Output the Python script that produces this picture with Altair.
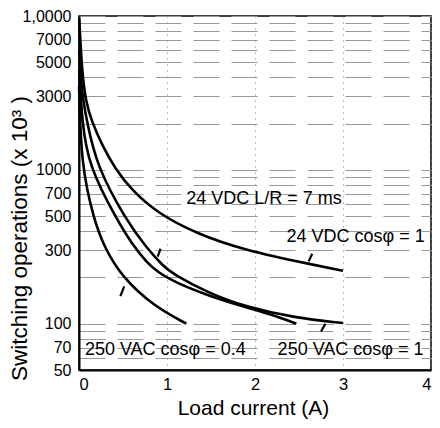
import altair as alt
import pandas as pd

# ---- curve data: load current (A) vs switching operations (x10^3) ----
dc_res_x = [0.003, 0.034, 0.078, 0.145, 0.268, 0.413, 0.6, 0.9, 1.33, 1.89, 2.64, 3.0]
dc_res_y = [9500, 4300, 2770, 2060, 1425, 1015, 735, 520, 386, 299, 243, 221]

dc_lr_x = [0.003, 0.03, 0.09, 0.2, 0.536, 0.77, 0.96, 1.06, 1.47, 1.89, 2.45, 3.0]
dc_lr_y = [6000, 3200, 2060, 1060, 470, 310, 236, 212, 158, 129, 109, 101]

ac_res_x = [0.002, 0.034, 0.11, 0.425, 0.6, 0.77, 0.9, 1.1, 1.47, 1.89, 2.2, 2.47]
ac_res_y = [4500, 2060, 1060, 480, 330, 250, 215, 185, 152, 128, 114, 100]

ac_ind_x = [0.001, 0.025, 0.168, 0.28, 0.49, 0.85, 1.22]
ac_ind_y = [3500, 1060, 480, 320, 200, 130, 100]

series_names = ["24 VDC cosφ = 1", "24 VDC L/R = 7 ms", "250 VAC cosφ = 1", "250 VAC cosφ = 0.4"]

# ---- labels ----
label_texts = ["24 VDC L/R = 7 ms", "24 VDC cosφ = 1", "250 VAC cosφ = 0.4", "250 VAC cosφ = 1"]
label_x = [1.218, 2.358, 0.067, 2.257]
label_y = [643, 366, 67, 67]

# ---- pointer arrows ----
arrow_x = [2.61, 0.894, 0.47, 2.75]
arrow_x2 = [2.65, 0.927, 0.514, 2.80]
arrow_y = [254, 273, 151, 89]
arrow_y2 = [285, 307, 175, 100]

# ---- axes ----
x_ticks = [0, 1, 2, 3, 4]
y_grid = [50, 60, 70, 80, 90, 100, 200, 300, 400, 500, 600, 700, 800, 900,
          1000, 2000, 3000, 4000, 5000, 6000, 7000, 8000, 9000, 10000]
y_label_values = [50, 70, 100, 300, 500, 700, 1000, 3000, 5000, 7000, 10000]
y_label_texts = ["50", "70", "100", "300", "500", "700", "1000", "3000", "5000", "7000", "1,0000"]

rows = []
for name, xs, ys in zip(series_names, [dc_res_x, dc_lr_x, ac_res_x, ac_ind_x],
                        [dc_res_y, dc_lr_y, ac_res_y, ac_ind_y]):
    for i, (a, b) in enumerate(zip(xs, ys)):
        rows.append({"series": name, "x": a, "y": b, "i": i})
curves = pd.DataFrame(rows)
labels = pd.DataFrame({"text": label_texts, "x": label_x, "y": label_y})
arrows = pd.DataFrame({"x": arrow_x, "x2": arrow_x2, "y": arrow_y, "y2": arrow_y2})

expr = "''"
for v, t in reversed(list(zip(y_label_values, y_label_texts))):
    expr = f"datum.value == {v} ? '{t}' : ({expr})"

FONT = "Liberation Sans"
x_scale = alt.Scale(domain=[0, 4], nice=False, zero=False)
y_scale = alt.Scale(type="log", domain=[50, 10000], nice=False)

x_axis = alt.Axis(values=x_ticks, format="d", title="Load current (A)",
                  grid=True, gridDash=[1, 5], gridColor="#777", gridWidth=1,
                  ticks=False, labelPadding=6, labelFontSize=16.5, labelFont=FONT,
                  labelColor="black", domainColor="black", domainWidth=2,
                  titleFont=FONT, titleFontSize=21, titleFontWeight="normal",
                  titleColor="black", titleX=174, titleY=38, titleBaseline="middle",
                  labelFlush=True)
y_axis = alt.Axis(values=y_grid, labelExpr=expr, title="Switching operations (x 10³ )",
                  grid=True, gridDash=[26, 12], gridColor="#999", gridWidth=1,
                  ticks=False, labelPadding=8, labelFontSize=16, labelFont=FONT,
                  labelColor="black", labelOverlap=False, labelFlush=False,
                  domainColor="black", domainWidth=2,
                  titleFont=FONT, titleFontSize=22.5, titleFontWeight="normal",
                  titleColor="black", titleX=-60, titleY=222, titleBaseline="middle")

lines = alt.Chart(curves).mark_line(color="black", strokeWidth=2.6, interpolate="basis").encode(
    x=alt.X("x:Q", scale=x_scale, axis=x_axis),
    y=alt.Y("y:Q", scale=y_scale, axis=y_axis),
    detail="series:N",
    order="i:Q",
)

text = alt.Chart(labels).mark_text(align="left", baseline="middle", fontSize=18,
                                   font=FONT, color="black").encode(
    x=alt.X("x:Q", scale=x_scale, axis=x_axis),
    y=alt.Y("y:Q", scale=y_scale, axis=y_axis),
    text="text:N",
)

arrow_marks = alt.Chart(arrows).mark_rule(color="black", strokeWidth=2.2).encode(
    x=alt.X("x:Q", scale=x_scale, axis=x_axis),
    y=alt.Y("y:Q", scale=y_scale, axis=y_axis),
    x2="x2:Q",
    y2="y2:Q",
)

chart = alt.layer(lines, arrow_marks, text).properties(
    width=352, height=354,
    autosize=alt.AutoSizeParams(type="none"),
    padding={"left": 71, "top": 8, "right": 1, "bottom": 50},
    background="white",
).configure_view(stroke="black", strokeWidth=1.5)

chart.save("out.html", embed_options={"renderer": "svg", "actions": False})
